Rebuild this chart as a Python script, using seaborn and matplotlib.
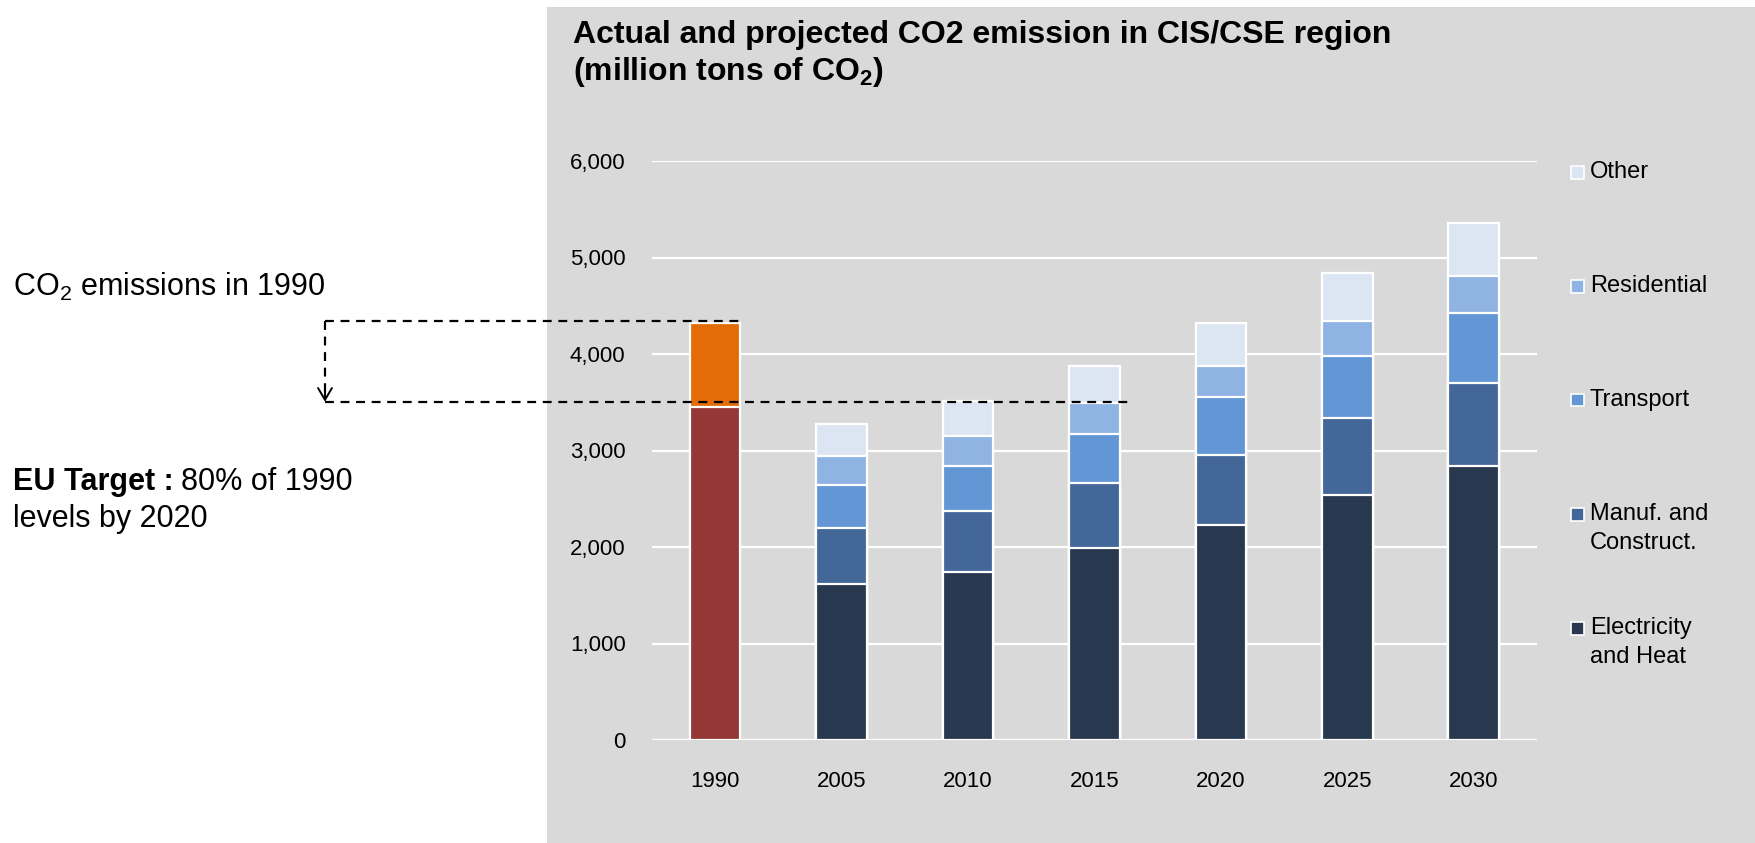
import numpy as np
import pandas as pd
import seaborn as sns
import matplotlib.pyplot as plt
import matplotlib.transforms as mtransforms
from matplotlib.patches import Rectangle
from matplotlib.lines import Line2D

# data (million tons of CO2)
years = ["1990", "2005", "2010", "2015", "2020", "2025", "2030"]
proj_years = years[1:]
electricity = [1620, 1740, 1990, 2230, 2540, 2840]
manuf = [575, 635, 670, 725, 795, 855]
transport = [445, 465, 510, 600, 645, 730]
residential = [300, 310, 325, 320, 360, 385]
other = [330, 360, 385, 445, 495, 550]
total_1990 = 4320
base_1990 = 3450
# levels of the dashed guide lines
guide_top = 4340
guide_target = 3505

sectors = ["Electricity\nand Heat", "Manuf. and\nConstruct.", "Transport", "Residential", "Other"]
sector_colors = ["#28394F", "#44679A", "#6396D5", "#8FB3E2", "#DCE6F2"]
color_1990_base = "#953735"
color_1990_top = "#E36C09"
bg = "#D9D9D9"

sns.set_style("white")
plt.rcParams["font.family"] = ["Liberation Sans", "DejaVu Sans"]
plt.rcParams["text.color"] = "black"
plt.rcParams["xtick.color"] = "black"
plt.rcParams["ytick.color"] = "black"
plt.rcParams["mathtext.fontset"] = "custom"
plt.rcParams["mathtext.rm"] = "Liberation Sans"
plt.rcParams["mathtext.bf"] = "Liberation Sans:bold"

# long table with cumulative heights for the stacked bars
rows = []
stack = np.zeros(len(proj_years))
for name, vals in zip(sectors, [electricity, manuf, transport, residential, other]):
    stack = stack + np.array(vals)
    for y, c in zip(proj_years, stack):
        rows.append({"year": y, "layer": name, "cum": c})
rows.append({"year": "1990", "layer": "base", "cum": base_1990})
rows.append({"year": "1990", "layer": "top", "cum": total_1990})
df = pd.DataFrame(rows)

fig = plt.figure(figsize=(17.56, 8.43), dpi=100)
fig.patch.set_facecolor("white")
fig.patches.append(Rectangle((547 / 1756, 0), 1, 1 - 7 / 843, transform=fig.transFigure,
                             facecolor=bg, edgecolor="none", zorder=-10))

ax = fig.add_axes([652 / 1756, 1 - 740 / 843, 885 / 1756, 579 / 843])
ax.patch.set_alpha(0)

# draw tallest layers first so lower layers sit on top of them
layer_order = [("top", color_1990_top), ("base", color_1990_base)] + \
    list(zip(sectors[::-1], sector_colors[::-1]))
for layer, col in layer_order:
    sns.barplot(data=df[df["layer"] == layer], x="year", y="cum", order=years,
                color=col, width=0.4, edgecolor="white", linewidth=1.6,
                saturation=1, ax=ax, zorder=3)

ax.set_xlim(-0.5, 6.5)
ax.set_ylim(0, 6000)
ax.set_yticks(range(0, 6001, 1000))
ax.set_yticklabels([f"{v:,}" for v in range(0, 6001, 1000)])
ax.grid(axis="y", color="white", linewidth=1.6, zorder=0)
ax.set_axisbelow(True)
sns.despine(ax=ax, left=True, bottom=True, top=True, right=True)
ax.set_xlabel("")
ax.set_ylabel("")
ax.tick_params(axis="y", length=0, pad=19, labelsize=16)
ax.tick_params(axis="x", length=0, pad=22, labelsize=16)

# legend, drawn by hand so the swatch sits on the first line of each label
for i, (lab, col) in enumerate(zip(sectors[::-1], sector_colors[::-1])):
    yc = 172 + 114 * i
    fig.patches.append(Rectangle((1571 / 1756, 1 - (yc + 6.5) / 843), 13.5 / 1756, 13 / 843,
                                 transform=fig.transFigure, facecolor=col,
                                 edgecolor="white", linewidth=1.2))
    for k, line in enumerate(lab.split("\n")):
        fig.text(1590 / 1756, 1 - (yc + 29 * k) / 843, line, fontsize=17,
                 va="center", ha="left")

# title
fig.text(573 / 1756, 1 - 43 / 843, "Actual and projected CO2 emission in CIS/CSE region",
         fontsize=23, fontweight="bold", va="baseline", ha="left")
fig.text(573 / 1756, 1 - 80 / 843, r"(million tons of CO$_\mathbf{2}$)",
         fontsize=23, fontweight="bold", va="baseline", ha="left")

# left annotations
fig.text(13 / 1756, 1 - 296 / 843, r"CO$_2$ emissions in 1990", fontsize=22, va="baseline")
t1 = fig.text(13 / 1756, 1 - 490 / 843, "EU Target :", fontsize=22, fontweight="bold",
              va="baseline")
fig.canvas.draw()
bb = t1.get_window_extent().transformed(fig.transFigure.inverted())
fig.text(bb.x1 + 7 / 1756, 1 - 490 / 843, "80% of 1990", fontsize=22, va="baseline")
fig.text(13 / 1756, 1 - 527 / 843, "levels by 2020", fontsize=22, va="baseline")

# dashed guide lines from the 1990 total down to the target level
blend = mtransforms.blended_transform_factory(fig.transFigure, ax.transData)
to_fig = ax.transData + fig.transFigure.inverted()
x_left = 325 / 1756
x_bar_edge = to_fig.transform((0.2, 0))[0]
x_target_end = to_fig.transform((3.27, 0))[0]
dash = (0, (4, 3))
for xs, ys in [([x_left, x_bar_edge], [guide_top, guide_top]),
               ([x_left, x_target_end], [guide_target, guide_target]),
               ([x_left, x_left], [guide_top, guide_target + 60])]:
    fig.add_artist(Line2D(xs, ys, transform=blend, color="black", linewidth=1.6,
                          linestyle=dash, zorder=5))
ax.annotate("", xy=(x_left, guide_target), xytext=(x_left, guide_target + 130),
            xycoords=blend, textcoords=blend,
            arrowprops=dict(arrowstyle="->,head_length=0.85,head_width=0.5",
                            color="black", linewidth=1.4, shrinkA=0, shrinkB=0))

fig.savefig("out.png", dpi=100)
